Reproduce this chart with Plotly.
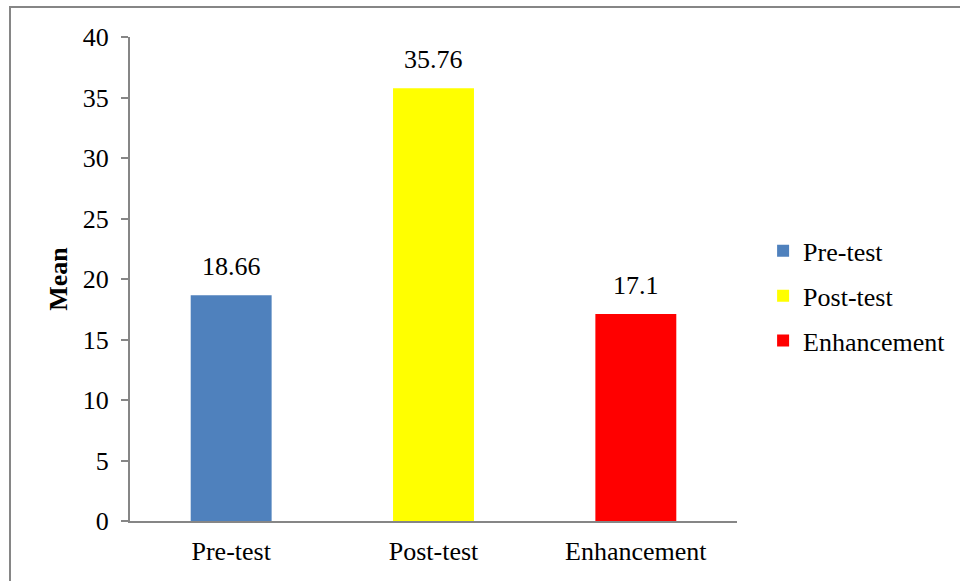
import plotly.graph_objects as go

# Mean scores by test phase
categories = ["Pre-test", "Post-test", "Enhancement"]
means = [18.66, 35.76, 17.1]
bar_colors = ["#4F81BD", "#FFFF00", "#FF0000"]
y_ticks = [0, 5, 10, 15, 20, 25, 30, 35, 40]

FONT = "Liberation Serif, Times New Roman, serif"
GREY = "#868686"

fig = go.Figure()
for i, (cat, val, col) in enumerate(zip(categories, means, bar_colors)):
    fig.add_trace(go.Bar(
        x=[cat], y=[val], name=cat,
        marker=dict(color=col, line=dict(width=0)),
        width=0.4, legendgroup=f"g{i}",
        hoverinfo="x+y",
    ))
    # value label above each bar
    fig.add_annotation(
        x=cat, y=val, text=f"{val:g}", showarrow=False,
        yanchor="bottom", yshift=12,
        font=dict(family=FONT, size=26, color="black"),
    )

fig.update_layout(
    width=960, height=581,
    margin=dict(l=130, r=223, t=37, b=60, autoexpand=False),
    paper_bgcolor="white", plot_bgcolor="white",
    barmode="overlay",
    font=dict(family=FONT, size=26, color="black"),
    showlegend=True,
    legend=dict(
        x=1.043, y=0.465, xanchor="left", yanchor="middle",
        font=dict(family=FONT, size=26, color="black"),
        tracegroupgap=8, itemwidth=30,
        bgcolor="rgba(0,0,0,0)",
    ),
    xaxis=dict(
        categoryorder="array", categoryarray=categories,
        showline=True, linecolor=GREY, linewidth=2,
        ticks="", showgrid=False, zeroline=False,
        ticklabelstandoff=6,
        tickfont=dict(family=FONT, size=26, color="black"),
    ),
    yaxis=dict(
        range=[0, 40], tickvals=y_ticks,
        showline=True, linecolor=GREY, linewidth=2,
        ticks="outside", ticklen=7, tickwidth=2, tickcolor=GREY,
        ticklabelstandoff=7,
        showgrid=False, zeroline=False,
        tickfont=dict(family=FONT, size=26, color="black"),
        title=dict(text="<b>Mean</b>", standoff=8,
                   font=dict(family=FONT, size=26, color="black")),
    ),
    shapes=[dict(
        type="rect", xref="paper", yref="paper",
        x0=(10 - 130) / 607, x1=(990 - 130) / 607,
        y0=(521 - 620) / 484, y1=(521 - 7) / 484,
        line=dict(color=GREY, width=2), fillcolor="rgba(0,0,0,0)",
        layer="below",
    )],
)

fig.write_html("out.html")
